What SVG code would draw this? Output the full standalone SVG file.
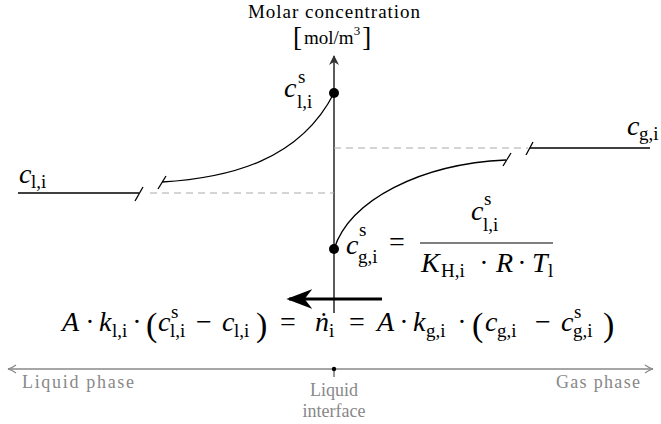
<svg xmlns="http://www.w3.org/2000/svg" width="661" height="424" viewBox="0 0 661 424">
<defs>
<style>
.t{font-family:"Liberation Serif","DejaVu Serif",serif;fill:#000}
.mi{font-family:"Liberation Serif","DejaVu Serif",serif;font-size:28px;font-style:italic;fill:#000}
.mr{font-family:"Liberation Serif","DejaVu Serif",serif;font-size:28px;fill:#000}
.ms{font-family:"Liberation Serif","DejaVu Serif",serif;font-size:19px;fill:#000}
.pa{font-family:"Liberation Serif","DejaVu Serif",serif;font-size:34px;fill:#000}
.ax{stroke:#333;stroke-width:1.6;fill:none}
.cv{stroke:#000;stroke-width:1.3;fill:none}
.br{stroke:#000;stroke-width:1.3}
.da{stroke:#aaa;stroke-width:1;stroke-dasharray:7,5;fill:none}
.g{font-family:"Liberation Serif","DejaVu Serif",serif;font-size:18px;fill:#888}
</style>
<marker id="ah" viewBox="0 0 10 10" refX="9" refY="5" markerWidth="10" markerHeight="10" markerUnits="userSpaceOnUse" orient="auto">
<path d="M0,0 L10,5 L0,10 L3,5 Z" fill="#333"/>
</marker>
<marker id="gh" viewBox="0 0 10 10" refX="9" refY="5" markerWidth="10" markerHeight="10" markerUnits="userSpaceOnUse" orient="auto-start-reverse">
<path d="M1,1 Q5,4 9,5 Q5,6 1,9" fill="none" stroke="#888" stroke-width="1.2"/>
</marker>
<marker id="bh" viewBox="0 0 10 10" refX="9" refY="5" markerWidth="26" markerHeight="20" markerUnits="userSpaceOnUse" orient="auto" preserveAspectRatio="none">
<path d="M0,0 L10,5 L0,10 L3,5 Z" fill="#000"/>
</marker>
</defs>

<g id="connectors">
<line class="ax" x1="334" y1="313" x2="334" y2="56" marker-end="url(#ah)"/>
<line class="da" x1="334" y1="148" x2="528" y2="148"/>
<line class="da" x1="150" y1="193" x2="334" y2="193"/>
<line class="cv" x1="18" y1="193" x2="139" y2="193"/>
<line class="br" x1="135" y1="201" x2="143" y2="187"/>
<line class="br" x1="158" y1="189" x2="166" y2="176"/>
<path class="cv" d="M162,182 C230,178 300,160 334,93"/>
<path class="cv" d="M334,249 C350,200 420,164 506,160"/>
<line class="br" x1="503" y1="166" x2="511" y2="153"/>
<line class="br" x1="526" y1="155" x2="533" y2="142"/>
<line class="cv" x1="530" y1="148" x2="650" y2="148"/>
<line stroke="#000" stroke-width="3" x1="382" y1="299" x2="289" y2="299" marker-end="url(#bh)"/>
<line stroke="#888" stroke-width="1.3" x1="8" y1="369" x2="653" y2="369" marker-start="url(#gh)" marker-end="url(#gh)"/>
<line stroke="#333" stroke-width="1" x1="334" y1="369" x2="334" y2="377"/>
<circle cx="334" cy="369" r="2.2" fill="#000"/>
</g>

<g id="axis-title">
<text class="t" x="334" y="18" font-size="19" text-anchor="middle" textLength="172" lengthAdjust="spacing">Molar concentration</text>
<text class="t" x="293" y="44" font-size="19"><tspan font-size="27" dy="2">[</tspan><tspan dy="-2" dx="2">mol/m</tspan><tspan font-size="13" dy="-9">3</tspan><tspan font-size="27" dy="11" dx="2">]</tspan></text>
</g>

<g id="node-cls">
<circle cx="334" cy="93" r="5" fill="#000"/>
<text class="mi" x="284" y="97">c</text>
<text class="ms" x="298" y="83">s</text>
<text class="ms" x="297" y="108">l,i</text>
</g>

<g id="node-cgs">
<circle cx="334" cy="249" r="5" fill="#000"/>
<text class="mi" x="346" y="254">c</text>
<text class="ms" x="359" y="236">s</text>
<text class="ms" x="358" y="263">g,i</text>
<text class="mr" x="397" y="251" text-anchor="middle">=</text>
<text class="mi" x="471" y="220">c</text>
<text class="ms" x="484" y="205">s</text>
<text class="ms" x="483" y="231">l,i</text>
<line x1="420" y1="243" x2="553" y2="243" stroke="#000" stroke-width="1.2"/>
<text class="mi" x="421" y="272">K</text>
<text class="ms" x="441" y="277">H,i</text>
<text class="mr" x="484" y="272" text-anchor="middle">·</text>
<text class="mi" x="496" y="272">R</text>
<text class="mr" x="522" y="272" text-anchor="middle">·</text>
<text class="mi" x="532" y="272">T</text>
<text class="ms" x="548" y="277">l</text>
</g>

<g id="node-cli">
<text class="mi" x="19" y="183">c</text>
<text class="ms" x="31" y="188">l,i</text>
</g>

<g id="node-cgi">
<text class="mi" x="627" y="135">c</text>
<text class="ms" x="639" y="140">g,i</text>
</g>

<g id="equation">
<text class="mi" x="62" y="331">A</text>
<text class="mr" x="90" y="331" text-anchor="middle">·</text>
<text class="mi" x="99" y="331">k</text>
<text class="ms" x="112" y="337">l,i</text>
<text class="mr" x="137" y="331" text-anchor="middle">·</text>
<text class="pa" x="146" y="336">(</text>
<text class="mi" x="158" y="331">c</text>
<text class="ms" x="171" y="318">s</text>
<text class="ms" x="170" y="337">l,i</text>
<text class="mr" x="204" y="331" text-anchor="middle">−</text>
<text class="mi" x="222" y="331">c</text>
<text class="ms" x="234" y="337">l,i</text>
<text class="pa" x="256" y="336">)</text>
<text class="mr" x="288" y="331" text-anchor="middle">=</text>
<text class="mi" x="315" y="331">ṅ</text>
<text class="ms" x="329" y="337">i</text>
<text class="mr" x="357" y="331" text-anchor="middle">=</text>
<text class="mi" x="377" y="331">A</text>
<text class="mr" x="404" y="331" text-anchor="middle">·</text>
<text class="mi" x="413" y="331">k</text>
<text class="ms" x="426" y="337">g,i</text>
<text class="mr" x="462" y="331" text-anchor="middle">·</text>
<text class="pa" x="472" y="336">(</text>
<text class="mi" x="485" y="331">c</text>
<text class="ms" x="497" y="337">g,i</text>
<text class="mr" x="543" y="331" text-anchor="middle">−</text>
<text class="mi" x="561" y="331">c</text>
<text class="ms" x="574" y="318">s</text>
<text class="ms" x="573" y="337">g,i</text>
<text class="pa" x="603" y="336">)</text>
</g>

<g id="labels">
<text class="g" x="22" y="388" textLength="112" lengthAdjust="spacing">Liquid phase</text>
<text class="g" x="556" y="388" textLength="84" lengthAdjust="spacing">Gas phase</text>
<text class="g" x="334" y="396" text-anchor="middle">Liquid</text>
<text class="g" x="334" y="417" text-anchor="middle">interface</text>
</g>
</svg>
